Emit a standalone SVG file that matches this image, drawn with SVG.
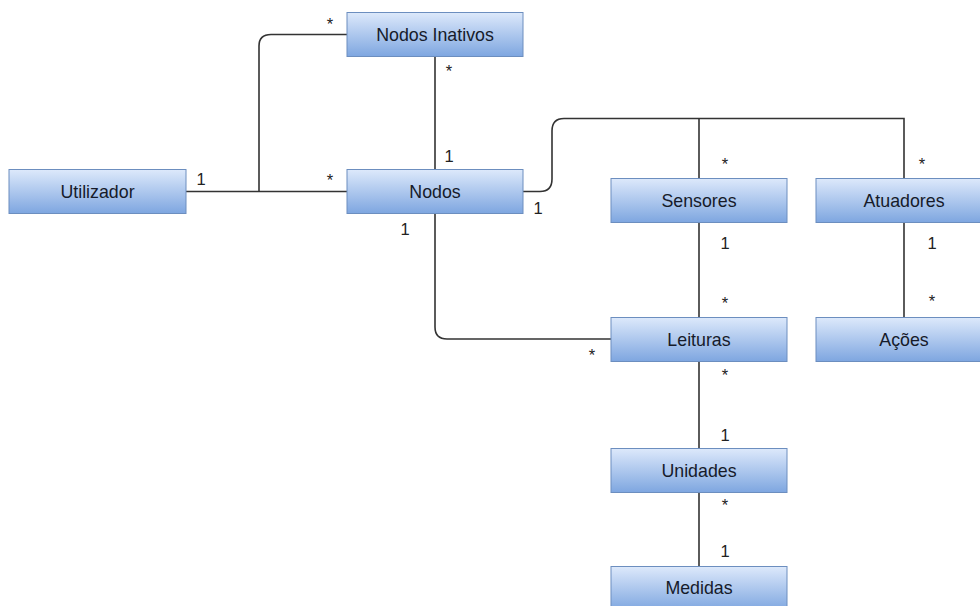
<svg xmlns="http://www.w3.org/2000/svg" width="980" height="606" viewBox="0 0 980 606">
  <defs>
    <linearGradient id="boxFill" x1="0" y1="0" x2="0" y2="1">
      <stop offset="0" stop-color="#dde9fb"/>
      <stop offset="1" stop-color="#7ea6e0"/>
    </linearGradient>
    <style>
      .box { fill: url(#boxFill); stroke: #6c8ebf; stroke-width: 1; }
      .name { font-family: "Liberation Sans", Arial, sans-serif; font-size: 17.8px; fill: #161b2a; text-anchor: middle; dominant-baseline: central; }
      .mult { font-family: "Liberation Sans", Arial, sans-serif; font-size: 16.5px; fill: #222222; text-anchor: middle; dominant-baseline: central; }
      .edge { fill: none; stroke: #333333; stroke-width: 1.6; }
    </style>
  </defs>
  <rect width="980" height="606" fill="#ffffff"/>

  <!-- associations -->
  <g id="connectors">
    <path class="edge" d="M186 191.5 H347"/>
    <path class="edge" d="M259 191.5 V46 Q259 34.5 271 34.5 H347"/>
    <path class="edge" d="M435 56 V169"/>
    <path class="edge" d="M523 191.5 H540 Q552 191.5 552 179 V131 Q552 118.5 564 118.5 H904 V178"/>
    <path class="edge" d="M699 118.5 V178"/>
    <path class="edge" d="M435 213 V327 Q435 339 447 339 H611"/>
    <path class="edge" d="M699 222 V317"/>
    <path class="edge" d="M904 222 V317"/>
    <path class="edge" d="M699 361 V448"/>
    <path class="edge" d="M699 492 V566"/>
  </g>

  <!-- multiplicities -->
  <g id="multiplicities">
    <text class="mult" x="330" y="24">*</text>
    <text class="mult" x="449" y="71">*</text>
    <text class="mult" x="449" y="156">1</text>
    <text class="mult" x="201" y="179">1</text>
    <text class="mult" x="330" y="180">*</text>
    <text class="mult" x="538" y="208">1</text>
    <text class="mult" x="405" y="229">1</text>
    <text class="mult" x="725" y="164">*</text>
    <text class="mult" x="922" y="164">*</text>
    <text class="mult" x="725" y="243">1</text>
    <text class="mult" x="932" y="243">1</text>
    <text class="mult" x="725" y="303">*</text>
    <text class="mult" x="932" y="301">*</text>
    <text class="mult" x="592" y="355">*</text>
    <text class="mult" x="725" y="375">*</text>
    <text class="mult" x="725" y="435">1</text>
    <text class="mult" x="725" y="505">*</text>
    <text class="mult" x="725" y="551">1</text>
  </g>

  <!-- classes -->
  <g id="nodos-inativos">
    <rect class="box" x="347" y="12.5" width="176" height="44"/>
    <text class="name" x="435" y="34.5">Nodos Inativos</text>
  </g>
  <g id="utilizador">
    <rect class="box" x="9" y="169.5" width="177" height="44"/>
    <text class="name" x="97.5" y="191.5">Utilizador</text>
  </g>
  <g id="nodos">
    <rect class="box" x="347" y="169.5" width="176" height="44"/>
    <text class="name" x="435" y="191.5">Nodos</text>
  </g>
  <g id="sensores">
    <rect class="box" x="611" y="178.5" width="176" height="44"/>
    <text class="name" x="699" y="200.5">Sensores</text>
  </g>
  <g id="atuadores">
    <rect class="box" x="816" y="178.5" width="176" height="44"/>
    <text class="name" x="904" y="200.5">Atuadores</text>
  </g>
  <g id="leituras">
    <rect class="box" x="611" y="317.5" width="176" height="44"/>
    <text class="name" x="699" y="339.5">Leituras</text>
  </g>
  <g id="acoes">
    <rect class="box" x="816" y="317.5" width="176" height="44"/>
    <text class="name" x="904" y="339.5">Ações</text>
  </g>
  <g id="unidades">
    <rect class="box" x="611" y="448.5" width="176" height="44"/>
    <text class="name" x="699" y="470.5">Unidades</text>
  </g>
  <g id="medidas">
    <rect class="box" x="611" y="566.5" width="176" height="44"/>
    <text class="name" x="699" y="588">Medidas</text>
  </g>
</svg>
